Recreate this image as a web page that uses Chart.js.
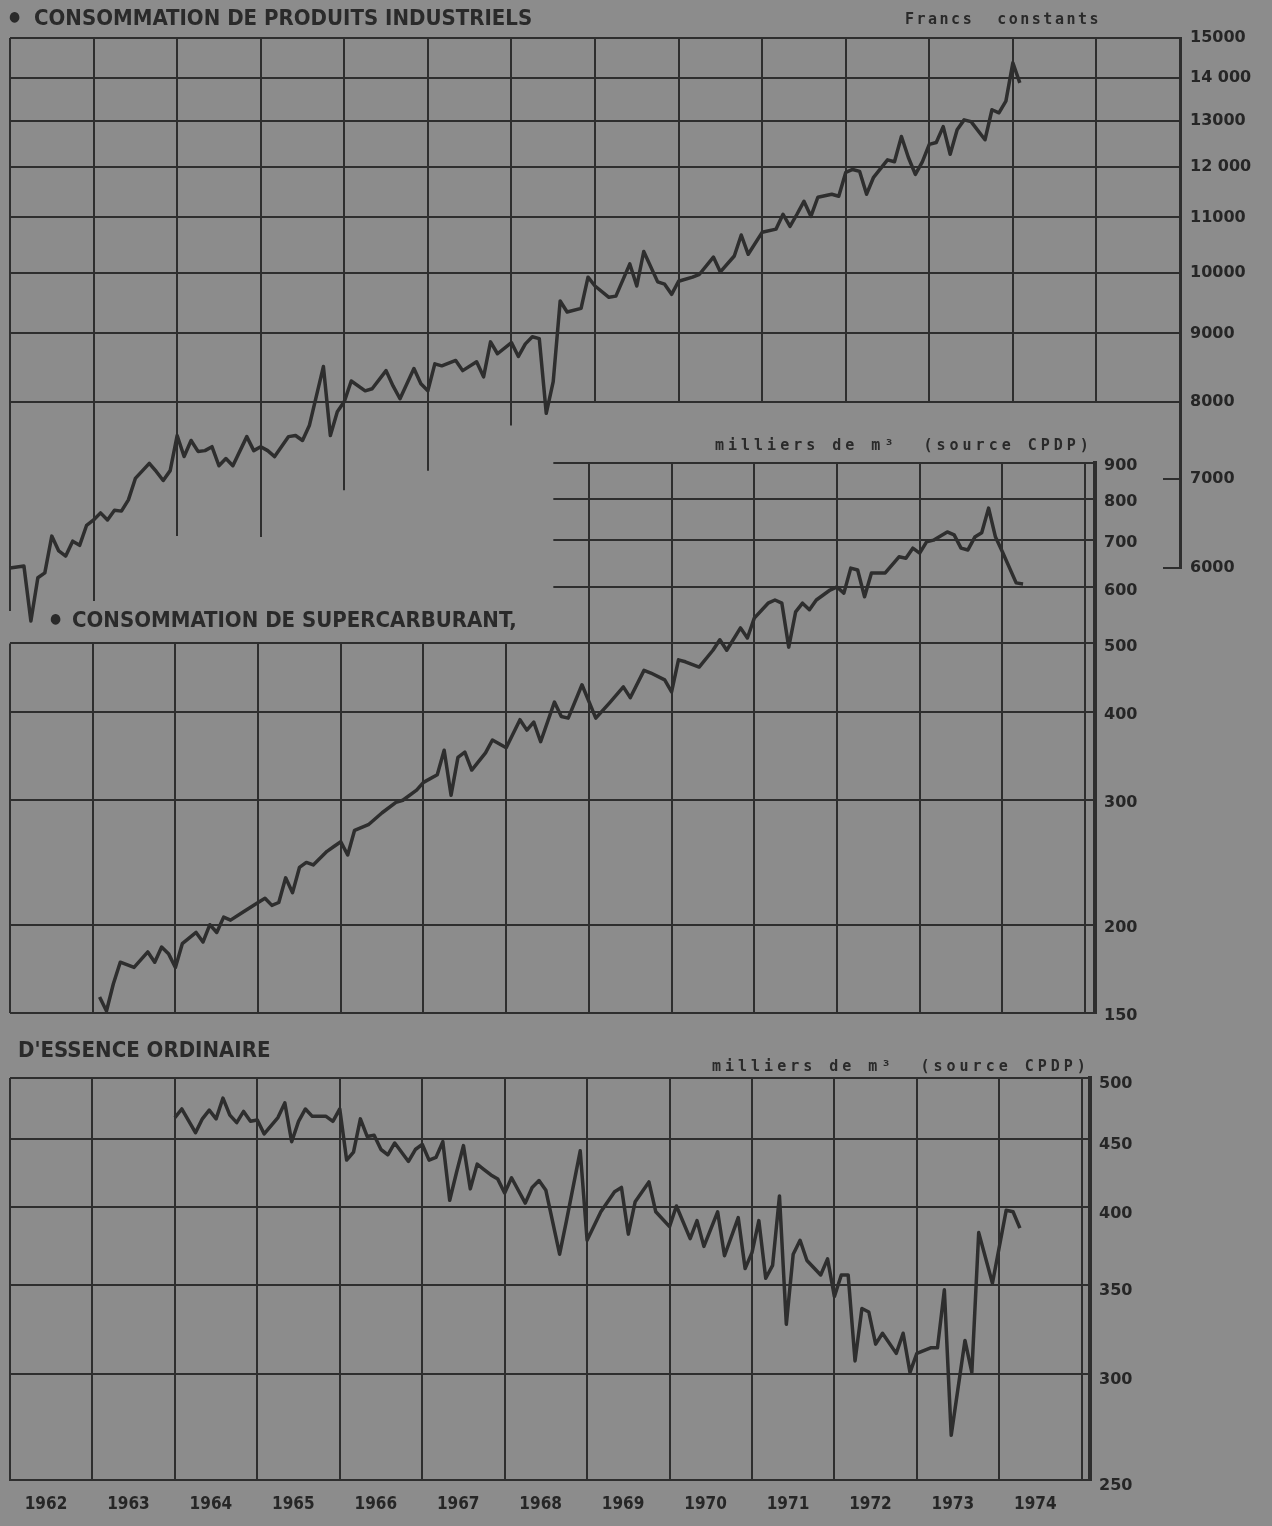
<!DOCTYPE html>
<html lang="fr">
<head>
<meta charset="UTF-8">
<title>Consommation de produits industriels et de carburants</title>
<script src="https://cdn.jsdelivr.net/npm/chart.js"></script>
<style>
  body { margin: 0; background: #8c8c8c; }
  #page { position: relative; width: 1272px; height: 1526px; overflow: hidden; background: #8c8c8c; }
  canvas { position: absolute; left: 0; }
  .titre { position: absolute; font-family: "DejaVu Sans Condensed", "DejaVu Sans", sans-serif; font-weight: bold;
           font-size: 22px; line-height: 22px; color: #2a2a2a; white-space: nowrap; }
  .puce { display: inline-block; font-size: 14px; line-height: 22px; vertical-align: top; position: relative; top: -2px; }
  .note { position: absolute; font-family: "DejaVu Sans Mono", monospace; font-weight: bold; font-size: 15px;
          line-height: 15px; letter-spacing: 4px; color: #2a2a2a; white-space: pre; }
</style>
</head>
<body>
<div id="page">
  <canvas id="industrie" width="1272" height="640" style="top:0"></canvas>
  <canvas id="super" width="1272" height="620" style="top:420px"></canvas>
  <canvas id="ordinaire" width="1272" height="486" style="top:1040px"></canvas>

  <div class="titre" style="left:9px;top:7px"><span class="puce" style="width:25px">●</span>CONSOMMATION DE PRODUITS INDUSTRIELS</div>
  <div class="note" style="left:905px;top:12px;letter-spacing:2.5px">Francs  constants</div>
  <div class="titre" style="left:50px;top:609px"><span class="puce" style="width:22px">●</span>CONSOMMATION DE SUPERCARBURANT,</div>
  <div class="note" style="left:715px;top:438px">milliers de m³  (source CPDP)</div>
  <div class="titre" style="left:18px;top:1039px">D'ESSENCE ORDINAIRE</div>
  <div class="note" style="left:712px;top:1059px">milliers de m³  (source CPDP)</div>
</div>

<script>
// valeurs, mois comptes a partir de janvier 1962
const industrieMois = [0,2,3,4,5,6,7,8,9,10,11,12,13,14,15,16,17,18,20,21,22,23,24,25,26,27,28,29,30,31,
  32,34,35,36,37,38,40,41,42,43,45,46,47,48,49,51,52,54,55,56,58,59,60,61,62,64,65,67,68,69,70,72,73,74,75,
  76,77,78,79,80,82,83,84,86,87,89,90,91,93,94,95,96,98,99,101,102,104,105,106,108,110,111,112,113,114,115,
  116,118,119,120,121,122,123,124,126,127,128,129,130,131,132,133,134,135,136,137,138,140,141,142,143,144,145];
const industrieValeurs = [6000,6020,5475,5900,5950,6340,6180,6125,6285,6240,6460,6520,6600,6520,6630,6620,
  6750,7005,7190,7090,6980,7100,7545,7275,7480,7340,7350,7400,7160,7250,7160,7530,7350,7400,7350,7275,7530,
  7545,7480,7680,8500,7545,7860,8000,8290,8150,8180,8440,8220,8040,8470,8250,8150,8540,8510,8590,8440,8570,
  8350,8870,8690,8860,8650,8840,8950,8920,7840,8280,9520,9340,9400,9920,9770,9580,9600,10150,9770,10370,9840,
  9800,9630,9850,9920,9970,10270,10010,10290,10670,10320,10720,10780,11060,10830,11060,11310,11020,11390,
  11450,11410,11890,11950,11910,11450,11790,12150,12110,12650,12200,11850,12110,12480,12520,12870,12270,
  12800,13020,12980,12580,13250,13180,13450,14370,13880];

const superMois = [13,14,15,16,18,20,21,22,23,24,25,27,28,29,30,31,32,34,36,37,38,39,40,41,42,43,44,46,47,48,
  49,50,52,54,56,57,59,60,62,63,64,65,66,67,69,70,72,74,75,76,77,79,80,81,83,85,87,89,90,92,93,95,96,97,98,
  100,102,103,104,106,107,108,110,111,112,113,114,115,116,117,119,120,121,122,123,124,125,127,129,130,131,
  132,133,134,136,137,138,139,140,141,142,143,144,146,147];
const superValeurs = [158,151,165,177,174,183,177,186,182,174,188,195,189,200,195,205,203,209,215,218,213,
  215,233,222,241,245,243,254,258,262,251,272,277,288,298,300,310,318,326,353,305,345,351,331,350,365,356,
  390,377,387,363,413,394,392,437,392,412,434,419,458,454,444,427,474,471,463,489,506,489,526,509,543,570,
  576,570,494,554,570,558,576,595,601,589,639,635,582,629,629,663,660,682,671,696,700,719,712,682,678,707,
  717,777,707,674,609,607];

const ordinaireMois = [24,25,27,28,29,30,31,32,33,34,35,36,37,39,40,41,42,43,44,46,47,48,49,50,51,52,53,54,
  55,56,58,59,60,61,62,63,64,65,66,67,68,69,70,71,72,73,75,76,77,78,80,81,83,84,86,88,89,90,91,93,94,96,97,
  99,100,101,103,104,106,107,108,109,110,111,112,113,114,115,116,118,119,120,121,122,123,124,125,126,127,
  129,130,131,132,134,135,136,137,139,140,141,143,145,146,147];
const ordinaireValeurs = [467,474,455,466,473,466,483,469,463,472,464,465,454,467,479,448,464,474,468,468,
  464,474,434,440,466,452,453,442,438,447,433,442,446,434,436,448,405,425,445,413,431,427,423,420,410,421,
  403,414,419,412,369,391,441,378,397,411,414,382,404,418,397,387,401,379,391,374,397,368,393,360,370,391,
  354,362,408,327,369,378,365,356,366,343,356,356,307,336,334,316,322,311,322,301,311,314,314,347,270,318,
  301,383,351,398,397,386];

const annees = [1962,1963,1964,1965,1966,1967,1968,1969,1970,1971,1972,1973,1974,1975];
const industrieTicks = [6000,7000,8000,9000,10000,11000,12000,13000,14000,15000];
const industrieLabels = ['6000','7000','8000','9000','10000','11000','12 000','13000','14 000','15000'];
const superTicks = [150,200,300,400,500,600,700,800,900];
const ordinaireTicks = [250,300,350,400,450,500];

const INK = '#2e2e2e';
const TEXT = '#262626';
const TICK_FONT = { family: 'DejaVu Sans', weight: 'bold', size: 16 };
const YEAR_FONT = { family: 'DejaVu Sans Condensed', weight: 'bold', size: 17 };

function points(mois, valeurs) {
    if (mois.length !== valeurs.length) console.warn('longueurs differentes', mois.length, valeurs.length);
    return mois.map((m, i) => ({ x: 1962 + m / 12, y: valeurs[i] }));
}

function fixWidth(w) {
    return s => { s.width = w; s.paddingTop = 0; s.paddingBottom = 0; };
}
function fixHeight(h) {
    return s => { s.height = h; s.paddingLeft = 0; s.paddingRight = 0; };
}

// quadrillage partiel (lignes qui s'arretent comme sur l'original)
function grille(spec) {
    return {
        id: 'grille',
        beforeDatasetsDraw(chart) {
            const { ctx } = chart;
            const x = chart.scales.x, y = chart.scales.y;
            ctx.save();
            ctx.strokeStyle = INK;
            ctx.lineWidth = 2;
            spec.rows.forEach(r => {
                const py = Math.round(y.getPixelForValue(r.value));
                ctx.beginPath();
                ctx.moveTo(x.getPixelForValue(r.from), py);
                ctx.lineTo(x.getPixelForValue(r.to), py);
                ctx.stroke();
            });
            spec.cols.forEach(c => {
                const px = Math.round(x.getPixelForValue(c.year));
                ctx.beginPath();
                ctx.moveTo(px, y.getPixelForValue(c.top));
                ctx.lineTo(px, y.getPixelForValue(c.bottom));
                ctx.stroke();
            });
            (spec.marks || []).forEach(v => {
                const py = Math.round(y.getPixelForValue(v));
                ctx.beginPath();
                ctx.moveTo(chart.chartArea.right - 17, py);
                ctx.lineTo(chart.chartArea.right, py);
                ctx.stroke();
            });
            ctx.restore();
        }
    };
}

function serie(data) {
    return {
        data: data,
        borderColor: INK,
        borderWidth: 3.5,
        borderJoinStyle: 'round',
        pointRadius: 0,
        tension: 0,
        clip: false
    };
}

const base = {
    responsive: false,
    animation: false,
    devicePixelRatio: 1,
    events: [],
    plugins: { legend: { display: false }, tooltip: { enabled: false } }
};

// ---- produits industriels ----
const basIndustrie = { 1962: 5570, 1963: 5667, 1964: 6340, 1965: 6330, 1966: 6862, 1967: 7100, 1968: 7677 };
new Chart(document.getElementById('industrie'), {
    type: 'line',
    data: { datasets: [serie(points(industrieMois, industrieValeurs))] },
    options: Object.assign({}, base, {
        layout: { padding: { left: 10, top: 38, right: 0, bottom: 72 } },
        scales: {
            x: { type: 'linear', display: false, min: 1962, max: 1976 },
            y: {
                type: 'logarithmic', position: 'right', min: 6000, max: 15000,
                afterBuildTicks: s => { s.ticks = industrieTicks.map(v => ({ value: v })); },
                afterFit: fixWidth(92),
                grid: { drawOnChartArea: false, drawTicks: false },
                border: { color: INK, width: 3 },
                ticks: { color: TEXT, font: TICK_FONT, padding: 10, autoSkip: false,
                         callback: (v, i) => industrieLabels[i] }
            }
        }
    }),
    plugins: [grille({
        rows: industrieTicks.filter(v => v >= 8000).map(v => ({ value: v, from: 1962, to: 1976 })),
        cols: annees.map(a => ({ year: a, top: 15000, bottom: basIndustrie[a] || 8000 })),
        marks: [7000, 6000]
    })]
});

// ---- supercarburant ----
new Chart(document.getElementById('super'), {
    type: 'line',
    data: { datasets: [serie(points(superMois, superValeurs))] },
    options: Object.assign({}, base, {
        layout: { padding: { left: 10, top: 43, right: 0, bottom: 27 } },
        scales: {
            x: { type: 'linear', display: false, min: 1962, max: 1975.12 },
            y: {
                type: 'logarithmic', position: 'right', min: 150, max: 900,
                afterBuildTicks: s => { s.ticks = superTicks.map(v => ({ value: v })); },
                afterFit: fixWidth(177),
                grid: { drawOnChartArea: false, drawTicks: false },
                border: { color: INK, width: 4 },
                ticks: { color: TEXT, font: TICK_FONT, padding: 9, labelOffset: 3, autoSkip: false,
                         callback: v => String(v) }
            }
        }
    }),
    plugins: [grille({
        rows: superTicks.map(v => ({ value: v, from: v > 500 ? 1968.57 : 1962, to: 1975.12 })),
        cols: annees.map(a => ({ year: a, top: a < 1969 ? 500 : 900, bottom: 150 }))
    })]
});

// ---- essence ordinaire ----
new Chart(document.getElementById('ordinaire'), {
    type: 'line',
    data: { datasets: [serie(points(ordinaireMois, ordinaireValeurs))] },
    options: Object.assign({}, base, {
        layout: { padding: { left: 10, top: 38, right: 0, bottom: 0 } },
        scales: {
            x: {
                type: 'linear', position: 'bottom', min: 1962, max: 1975.1,
                afterBuildTicks: s => { s.ticks = annees.map(v => ({ value: v })); },
                afterFit: fixHeight(46),
                grid: { color: INK, lineWidth: 2, drawTicks: false },
                border: { color: INK, width: 2 },
                ticks: { color: TEXT, font: YEAR_FONT, padding: 14, labelOffset: 36, maxRotation: 0,
                         autoSkip: false, callback: v => (v < 1975 ? String(v) : '') }
            },
            y: {
                type: 'logarithmic', position: 'right', min: 250, max: 500,
                afterBuildTicks: s => { s.ticks = ordinaireTicks.map(v => ({ value: v })); },
                afterFit: fixWidth(182),
                grid: { color: INK, lineWidth: 2, drawTicks: false },
                border: { color: INK, width: 4 },
                ticks: { color: TEXT, font: TICK_FONT, padding: 9, labelOffset: 6, autoSkip: false,
                         callback: v => String(v) }
            }
        }
    })
});
</script>
</body>
</html>
